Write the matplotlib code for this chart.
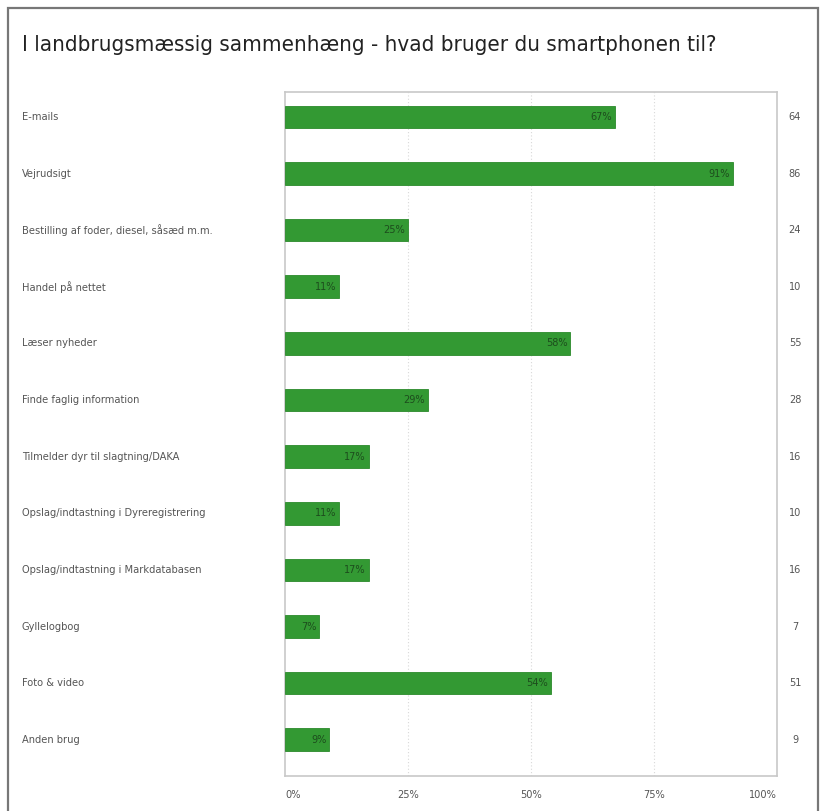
import matplotlib
matplotlib.use("Agg")
import matplotlib.pyplot as plt
from matplotlib.patches import Rectangle
from matplotlib.transforms import blended_transform_factory
from matplotlib import font_manager as fm

categories = ["E-mails", "Vejrudsigt", "Bestilling af foder, diesel, såsæd m.m.",
              "Handel på nettet", "Læser nyheder", "Finde faglig information",
              "Tilmelder dyr til slagtning/DAKA", "Opslag/indtastning i Dyreregistrering",
              "Opslag/indtastning i Markdatabasen", "Gyllelogbog", "Foto & video", "Anden brug"]
percent = [67, 91, 25, 11, 58, 29, 17, 11, 17, 7, 54, 9]
counts = [64, 86, 24, 10, 55, 28, 16, 10, 16, 7, 51, 9]
xticks = [0, 25, 50, 75, 100]
xticklabels = ["0%", "25%", "50%", "75%", "100%"]
title = "I landbrugsmæssig sammenhæng - hvad bruger du smartphonen til?"

plt.rcParams['font.family'] = ['DejaVu Sans']

cond_path = None
for f in fm.findSystemFonts():
    if f.endswith("DejaVuSansCondensed.ttf"):
        cond_path = f
        break


def fp(size):
    if cond_path:
        return fm.FontProperties(fname=cond_path, size=size)
    return fm.FontProperties(family="DejaVu Sans", size=size * 0.93)


W, H = 828, 811
fig = plt.figure(figsize=(W / 100, H / 100), dpi=100)
fig.patch.set_facecolor("white")

# outer frame
fig.add_artist(Rectangle((8 / W, -0.01), (818 - 8) / W, 1 - 8 / H + 0.01,
                         transform=fig.transFigure, fill=False,
                         edgecolor="#777777", linewidth=1.6))

ax = fig.add_axes([285 / W, 1 - 776 / H, (777 - 285) / W, (776 - 92) / H])
y = list(range(len(categories)))
ax.barh(y, percent, height=0.40, color="#339933", edgecolor="#2b8a2b", linewidth=0.6, zorder=3)
ax.set_xlim(0, 100)
ax.set_ylim(11.64, -0.44)

for xv in [25, 50, 75]:
    ax.axvline(xv, color="#d8d8d8", linestyle=(0, (1, 2)), linewidth=0.8, zorder=1)

for i, p in enumerate(percent):
    ax.text(p - 0.6, i, f"{p}%", ha="right", va="center", fontproperties=fp(7.8),
            color="#1d4d1d", zorder=4)

ax.set_xticks([])
ax.set_yticks([])
for s in ax.spines.values():
    s.set_color("#c8c8c8")
    s.set_linewidth(1.2)

# category labels
lab_tr = blended_transform_factory(fig.transFigure, ax.transData)
for i, c in enumerate(categories):
    ax.text(22 / W, i, c, transform=lab_tr, ha="left", va="center",
            fontproperties=fp(7.9), color="#555555", clip_on=False)

# counts column
for i, n in enumerate(counts):
    ax.text(795 / W, i, str(n), transform=lab_tr, ha="center", va="center",
            fontproperties=fp(7.8), color="#555555", clip_on=False)

# x tick labels
tick_tr = blended_transform_factory(ax.transData, ax.transAxes)
for xv, lab in zip(xticks, xticklabels):
    ha = "left" if xv == 0 else ("right" if xv == 100 else "center")
    ax.text(xv, -0.028, lab, transform=tick_tr, ha=ha, va="center",
            fontproperties=fp(7.8), color="#555555", clip_on=False)

fig.text(22 / W, 1 - 45 / H, title, ha="left", va="center", fontproperties=fp(16.0), color="#222222")

fig.savefig("out.png", dpi=100)
